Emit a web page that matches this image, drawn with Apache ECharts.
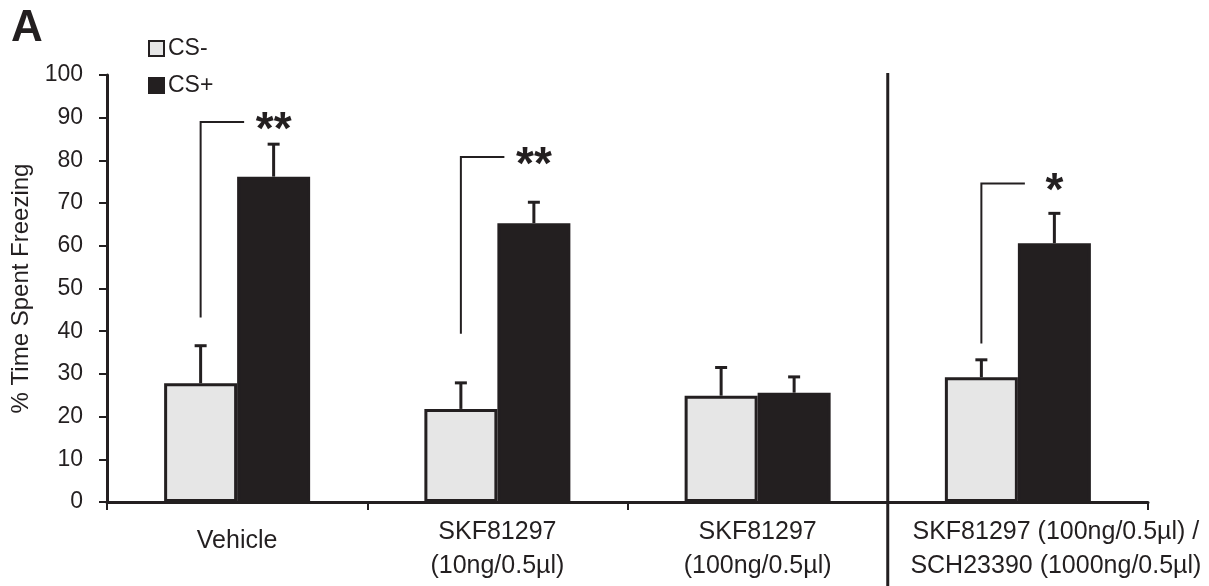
<!DOCTYPE html>
<html>
<head>
<meta charset="utf-8">
<script src="https://cdn.jsdelivr.net/npm/echarts@6/dist/echarts.min.js"></script>
<style>
    html, body { margin: 0; padding: 0; background: #fff; }
    #chart { width: 1209px; height: 586px; }
</style>
</head>
<body>
<div id="chart"></div>
<script>
    var categories = ['Vehicle', 'SKF81297\n(10ng/0.5µl)', 'SKF81297\n(100ng/0.5µl)', 'SKF81297 (100ng/0.5µl) /\nSCH23390 (1000ng/0.5µl)'];
    var csMinus = [27.8, 21.8, 24.9, 29.2];
    var csMinusSem = [8.8, 6.1, 6.6, 4.1];
    var csPlus = [76.2, 65.3, 25.6, 60.6];
    var csPlusSem = [7.6, 4.9, 3.7, 7.0];
    // significance brackets: bottom and top of bracket (% values), star text
    var sigLow = [43.2, 39.4, null, 37.1];
    var sigHigh = [89.0, 80.8, null, 74.6];
    var sigStars = ['**', '**', '', '*'];
    var yTicks = [0, 10, 20, 30, 40, 50, 60, 70, 80, 90, 100];

    var INK = '#231f20';
    var FONT = '"Liberation Sans", Arial, sans-serif';
    var BAR_W = 73;

    var chart = echarts.init(document.getElementById('chart'));

    /* error bars (upward only) */
    var errData = [];
    for (var i = 0; i < categories.length; i++) {
        errData.push([i, csMinus[i], csMinusSem[i], -1]);
        errData.push([i, csPlus[i], csPlusSem[i], 1]);
    }
    function renderErr(params, api) {
        var side = api.value(3);
        var base = api.coord([api.value(0), api.value(1)]);
        var top = api.coord([api.value(0), api.value(1) + api.value(2)]);
        var x = base[0] + side * BAR_W / 2;
        return {
            type: 'group',
            children: [
                { type: 'line', shape: { x1: x, y1: base[1], x2: x, y2: top[1] }, style: { stroke: INK, lineWidth: 3 } },
                { type: 'line', shape: { x1: x - 6, y1: top[1], x2: x + 6, y2: top[1] }, style: { stroke: INK, lineWidth: 3 } }
            ]
        };
    }

    /* significance brackets */
    var sigData = [];
    for (var j = 0; j < categories.length; j++) {
        if (sigLow[j] != null) sigData.push([j, sigLow[j], sigHigh[j], sigStars[j]]);
    }
    function renderSig(params, api) {
        var lo = api.coord([api.value(0), api.value(1)]);
        var hi = api.coord([api.value(0), api.value(2)]);
        var xg = lo[0] - BAR_W / 2;
        var xb = lo[0] + BAR_W / 2;
        var d = sigData[params.dataIndex];
        return {
            type: 'group',
            children: [
                { type: 'polyline', shape: { points: [[xg, lo[1]], [xg, hi[1]], [lo[0] + 7, hi[1]]] }, style: { stroke: INK, lineWidth: 2, fill: null } },
                { type: 'text', x: xb, y: hi[1] - 14, style: { text: d[3], font: 'bold 46px ' + FONT, fill: INK, align: 'center', verticalAlign: 'top' } }
            ]
        };
    }

    /* divider between 3rd and 4th group */
    function renderDivider(params, api) {
        var p = api.coord([2, 100]);
        var x = p[0] + api.size([1, 0])[0] / 2;
        return { type: 'line', shape: { x1: x, y1: p[1] - 2, x2: x, y2: 586 }, style: { stroke: INK, lineWidth: 3 } };
    }

    var option = {
        animation: false,
        textStyle: { fontFamily: FONT, color: INK },
        title: {
            text: 'A', left: 6, top: 2,
            textStyle: { fontSize: 44, fontWeight: 'bold', color: INK, fontFamily: FONT }
        },
        legend: {
            orient: 'vertical', left: 143, top: 32,
            icon: 'rect',
            itemWidth: 15, itemHeight: 15, itemGap: 14,
            textStyle: { fontSize: 23, color: INK, padding: [0, 0, 0, -1] },
            data: ['CS-', 'CS+']
        },
        grid: { left: 107, right: 61, top: 75, bottom: 84 },
        xAxis: {
            type: 'category',
            data: categories.map(function (c, k) {
                if (k === 0) return { value: c, textStyle: { padding: [9, 0, 0, 0] } };
                if (k === 3) return { value: c, textStyle: { padding: [0, 0, 0, 76] } };
                return c;
            }),
            axisLine: { lineStyle: { color: INK, width: 3 } },
            axisTick: { show: true, length: 8, lineStyle: { color: INK, width: 2 } },
            axisLabel: { fontSize: 25, color: INK, margin: 13, lineHeight: 34, interval: 0 }
        },
        yAxis: {
            type: 'value', min: 0, max: 100, interval: 10,
            name: '% Time Spent Freezing', nameLocation: 'middle', nameGap: 73,
            nameTextStyle: { fontSize: 24, color: INK },
            axisLine: { show: true, lineStyle: { color: INK, width: 3 } },
            axisTick: { show: true, length: 8, lineStyle: { color: INK, width: 2 } },
            axisLabel: {
                fontSize: 23, color: INK, margin: 24,
                formatter: function (v) { return yTicks.indexOf(v) >= 0 ? v : ''; }
            },
            splitLine: { show: false }
        },
        series: [
            {
                name: 'CS-', type: 'bar', data: csMinus, barWidth: BAR_W, barGap: '0%',
                itemStyle: { color: '#e6e6e6', borderColor: INK, borderWidth: 3 }
            },
            {
                name: 'CS+', type: 'bar', data: csPlus, barWidth: BAR_W, barGap: '0%',
                itemStyle: { color: INK, borderColor: INK, borderWidth: 3 }
            },
            { type: 'custom', data: errData, renderItem: renderErr, z: 1, silent: true },
            { type: 'custom', data: sigData, renderItem: renderSig, z: 3, silent: true, clip: false },
            { type: 'custom', data: [[2, 100]], renderItem: renderDivider, z: 3, silent: true, clip: false }
        ]
    };
    chart.setOption(option);
    window.addEventListener('resize', function () {
        chart.resize();
    });
</script>
</body>
</html>
